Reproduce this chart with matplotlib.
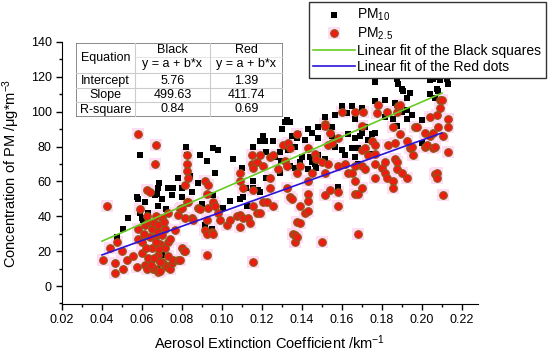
import matplotlib
matplotlib.use('Agg')
import matplotlib.pyplot as plt
from matplotlib.legend_handler import HandlerTuple
from matplotlib.ticker import MultipleLocator
import numpy as np

plt.rcParams['font.family'] = ['Liberation Sans', 'DejaVu Sans']
plt.rcParams['mathtext.fontset'] = 'custom'
plt.rcParams['mathtext.rm'] = 'Liberation Sans'
plt.rcParams['mathtext.it'] = 'Liberation Sans:italic'
plt.rcParams['font.size'] = 9

# PM10 (black squares): extinction coefficient / km^-1, concentration / ug m^-3
pm10_x = [0.0475, 0.0506, 0.053, 0.0575, 0.058, 0.059, 0.060, 0.0607, 0.0615, 0.063,
          0.0665, 0.0675, 0.068, 0.068, 0.0687, 0.070, 0.072, 0.073, 0.075, 0.0757,
          0.080, 0.080, 0.0675, 0.070, 0.059, 0.082, 0.0825, 0.088, 0.089, 0.0925,
          0.0955, 0.098, 0.0957, 0.0915, 0.095, 0.0965, 0.1005, 0.104, 0.1055, 0.109,
          0.1105, 0.110, 0.112, 0.1125, 0.1155, 0.1155, 0.1155, 0.118, 0.119, 0.119,
          0.1205, 0.1215, 0.122, 0.122, 0.1255, 0.1265, 0.129, 0.129, 0.1295, 0.130,
          0.1315, 0.1325, 0.133, 0.134, 0.134, 0.135, 0.1365, 0.1365, 0.1375, 0.138,
          0.139, 0.140, 0.1415, 0.143, 0.143, 0.144, 0.145, 0.145, 0.1465, 0.147,
          0.148, 0.148, 0.148, 0.1515, 0.1515, 0.1515, 0.155, 0.155, 0.1565, 0.1565,
          0.158, 0.160, 0.160, 0.1615, 0.1625, 0.163, 0.165, 0.165, 0.1665, 0.1665,
          0.1665, 0.168, 0.168, 0.169, 0.170, 0.170, 0.1715, 0.173, 0.175, 0.175,
          0.1765, 0.1765, 0.1765, 0.1815, 0.1815, 0.1855, 0.1865, 0.1875, 0.1875, 0.1875,
          0.188, 0.190, 0.190, 0.1905, 0.1925, 0.1925, 0.1925, 0.194, 0.195, 0.200,
          0.200, 0.204, 0.204, 0.2055, 0.2065, 0.2065, 0.2075, 0.208, 0.209, 0.2125,
          0.213, 0.085, 0.090, 0.078, 0.084]
pm10_y = [28, 33, 39, 51, 50, 42, 39, 38, 48, 42,
          52, 53, 46, 56, 59, 50, 44, 56, 52, 56,
          56, 51, 10, 18, 75, 80, 75, 59, 75, 72,
          79, 78, 52, 35, 33, 65, 45, 49, 73, 50,
          51, 68, 56, 46, 60, 56, 80, 55, 54, 83,
          86, 83, 62, 77, 83, 74, 77, 65, 72, 90,
          94, 95, 78, 94, 69, 86, 80, 68, 85, 87,
          71, 74, 84, 90, 67, 74, 88, 71, 70, 68,
          91, 85, 75, 97, 91, 73, 91, 86, 98, 80,
          57, 103, 78, 75, 99, 87, 103, 79, 96, 85,
          74, 70, 79, 86, 102, 88, 91, 84, 76, 87,
          117, 106, 88, 107, 97, 96, 105, 119, 104, 92,
          116, 113, 100, 112, 108, 101, 96, 111, 98, 95,
          82, 118, 110, 119, 120, 108, 113, 112, 118, 119,
          116, 54, 47, 62, 63]

# PM2.5 (red dots)
pm25_x = [0.0405, 0.0425, 0.044, 0.0465, 0.0465, 0.0475, 0.050, 0.0505, 0.0525, 0.0555,
          0.0575, 0.058, 0.058, 0.058, 0.059, 0.060, 0.060, 0.0615, 0.0615, 0.0625,
          0.0625, 0.063, 0.064, 0.065, 0.065, 0.0655, 0.0665, 0.0665, 0.067, 0.0665,
          0.068, 0.068, 0.068, 0.069, 0.069, 0.070, 0.070, 0.0715, 0.0715, 0.0715,
          0.0725, 0.073, 0.073, 0.073, 0.074, 0.074, 0.075, 0.0755, 0.0765, 0.078,
          0.078, 0.079, 0.079, 0.080, 0.080, 0.081, 0.0815, 0.0815, 0.0815, 0.0825,
          0.0825, 0.0825, 0.0825, 0.083, 0.083, 0.085, 0.0855, 0.088, 0.089, 0.0915,
          0.0915, 0.0925, 0.0925, 0.0925, 0.0925, 0.093, 0.093, 0.095, 0.0955, 0.0955,
          0.0965, 0.098, 0.099, 0.1025, 0.104, 0.1075, 0.109, 0.109, 0.109, 0.109,
          0.1105, 0.1105, 0.113, 0.114, 0.115, 0.115, 0.1155, 0.1155, 0.1155, 0.1155,
          0.1175, 0.1175, 0.119, 0.119, 0.1205, 0.1205, 0.1225, 0.124, 0.124, 0.124,
          0.1255, 0.1255, 0.128, 0.1305, 0.1315, 0.1325, 0.1325, 0.133, 0.134, 0.134,
          0.135, 0.1355, 0.1365, 0.1365, 0.1375, 0.1375, 0.1375, 0.1375, 0.139, 0.139,
          0.139, 0.1415, 0.143, 0.143, 0.143, 0.143, 0.143, 0.145, 0.1465, 0.147,
          0.150, 0.150, 0.1515, 0.1515, 0.1515, 0.1515, 0.153, 0.153, 0.154, 0.154,
          0.155, 0.158, 0.158, 0.158, 0.158, 0.160, 0.1615, 0.163, 0.165, 0.1665,
          0.1665, 0.1665, 0.1665, 0.168, 0.168, 0.170, 0.170, 0.170, 0.170, 0.1705,
          0.1715, 0.1715, 0.173, 0.175, 0.1765, 0.1765, 0.1765, 0.1765, 0.1775, 0.178,
          0.180, 0.1815, 0.1815, 0.1825, 0.1825, 0.183, 0.1855, 0.1855, 0.1855, 0.1865,
          0.1865, 0.1875, 0.1875, 0.1875, 0.188, 0.189, 0.189, 0.190, 0.1925, 0.1925,
          0.194, 0.195, 0.1955, 0.1965, 0.1975, 0.2015, 0.2015, 0.2025, 0.204, 0.204,
          0.2055, 0.2055, 0.2065, 0.2065, 0.2075, 0.2075, 0.2075, 0.208, 0.209, 0.209,
          0.210, 0.2105, 0.2105, 0.213, 0.213, 0.213,
          0.061, 0.062, 0.063, 0.064, 0.066, 0.066, 0.067, 0.067, 0.068, 0.069,
          0.070, 0.071, 0.0625, 0.0645, 0.0685]
pm25_y = [15, 46, 22, 7.5, 13, 25, 20, 10, 15, 17,
          11, 33, 27, 87, 44, 25, 19, 35, 12, 10,
          55, 16, 54, 33, 22, 10, 10, 28, 81, 70,
          31, 8, 18, 8.5, 24, 39, 14, 33, 22, 12,
          11, 42, 25, 17, 10, 27, 13, 15, 32, 41,
          15, 44, 15, 45, 22, 20, 58, 39, 20, 48,
          70, 66, 75, 62, 48, 39, 38, 45, 44, 60,
          32, 53, 38, 30, 18, 58, 45, 31, 30, 48,
          46, 42, 38, 35, 38, 40, 60, 41, 34, 65,
          56, 39, 39, 36, 75, 70, 55, 46, 68, 14,
          42, 71, 42, 75, 48, 69, 48, 74, 62, 56,
          46, 75, 67, 81, 72, 56, 69, 82, 51, 79,
          50, 30, 25, 29, 87, 65, 37, 28, 46, 36,
          69, 42, 60, 53, 49, 43, 79, 65, 76, 73,
          71, 25, 93, 92, 65, 52, 70, 81, 88, 55,
          82, 85, 69, 54, 46, 100, 70, 65, 65, 100,
          69, 60, 53, 53, 30, 92, 78, 69, 56, 100,
          79, 67, 75, 83, 81, 76, 70, 62, 99, 104,
          68, 71, 65, 100, 62, 81, 91, 60, 56, 82,
          73, 100, 71, 67, 103, 104, 87, 65, 83, 62,
          79, 80, 75, 91, 91, 88, 80, 81, 97, 86,
          88, 79, 80, 64, 98, 65, 62, 91, 107, 102,
          107, 86, 52, 96, 91, 77,
          30, 22, 37, 28, 36, 16, 25, 40, 35, 14,
          29, 37, 40, 12, 21]

# linear fit table
fit_names = ['Black', 'Red']
intercepts = [5.76, 1.39]
slopes = [499.63, 411.74]
r_squares = [0.84, 0.69]
fit_range = [0.04, 0.21]

x_ticks = np.arange(0.02, 0.23, 0.02)

fig = plt.figure(figsize=(5.5, 3.52), dpi=100)
ax = fig.add_axes([62 / 550, 48 / 352, 416 / 550, 262 / 352])

halo = ax.scatter(pm25_x, pm25_y, s=70, marker='s', c='#ffdcf3', linewidths=0, zorder=1)
black = ax.scatter(pm10_x, pm10_y, s=24, marker='s', c='black', linewidths=0, zorder=2)
red = ax.scatter(pm25_x, pm25_y, s=30, marker='o', c='#f01a12', edgecolors='#8a5a18',
                 linewidths=0.8, zorder=3)

xf = np.array(fit_range)
g_line, = ax.plot(xf, intercepts[0] + slopes[0] * xf, color='#66cc22', lw=1.2, zorder=4)
b_line, = ax.plot(xf, intercepts[1] + slopes[1] * xf, color='#2a14d8', lw=1.2, zorder=4)

ax.set_xlim(0.02, 0.228)
ax.set_ylim(-10.3, 140)
ax.set_xticks(x_ticks)
ax.set_xticklabels(['%.2f' % t for t in x_ticks])
ax.xaxis.set_minor_locator(MultipleLocator(0.01))
ax.yaxis.set_major_locator(MultipleLocator(20))
ax.yaxis.set_minor_locator(MultipleLocator(10))
ax.tick_params(which='major', direction='out', length=4, width=1, labelsize=9)
ax.tick_params(which='minor', direction='out', length=2.5, width=1)
ax.spines['top'].set_visible(False)
ax.spines['right'].set_visible(False)
ax.set_xlabel('Aerosol Extinction Coefficient /km$^{-1}$', fontsize=10.5, labelpad=5)
ax.set_ylabel('Concentration of PM /\u03bcg*m$^{-3}$', fontsize=10.5, labelpad=6)

fig.legend([black, (halo, red), g_line, b_line],
           ['PM$_{10}$', 'PM$_{2.5}$', 'Linear fit of the Black squares', 'Linear fit of the Red dots'],
           handler_map={tuple: HandlerTuple(ndivide=1, pad=0)},
           loc='upper right', bbox_to_anchor=(0.992, 0.993), fontsize=10,
           frameon=True, fancybox=False, edgecolor='#333333', framealpha=1,
           handlelength=3.0, handletextpad=0.2, labelspacing=0.15, borderpad=0.3,
           borderaxespad=0)

# table of fit results
tab = fig.add_axes([76 / 550, 1 - 117 / 352, 207 / 550, 74 / 352])
tab.set_xlim(0, 207)
tab.set_ylim(74, 0)
tab.axis('off')
tab.add_patch(plt.Rectangle((0, 0), 207, 74, fill=False, ec='#777777', lw=1.2))
for yy in [30, 45, 59]:
    tab.plot([0, 207], [yy, yy], color='#cccccc', lw=0.8)
tab.plot([59, 207], [14, 14], color='#e0e0e0', lw=0.6)
for xx in [59, 134]:
    tab.plot([xx, xx], [0, 74], color='#cccccc', lw=0.8)
col_c = [29.5, 96.5, 170.5]
tab.text(col_c[0], 15.5, 'Equation', ha='center', va='center', fontsize=9)
for i in range(2):
    tab.text(col_c[i + 1], 7, fit_names[i], ha='center', va='center', fontsize=9)
    tab.text(col_c[i + 1], 21.5, 'y = a + b*x', ha='center', va='center', fontsize=9)
    tab.text(col_c[i + 1], 38, '%.2f' % intercepts[i], ha='center', va='center', fontsize=9)
    tab.text(col_c[i + 1], 52, '%.2f' % slopes[i], ha='center', va='center', fontsize=9)
    tab.text(col_c[i + 1], 66.5, '%.2f' % r_squares[i], ha='center', va='center', fontsize=9)
tab.text(col_c[0], 38, 'Intercept', ha='center', va='center', fontsize=9)
tab.text(col_c[0], 52, 'Slope', ha='center', va='center', fontsize=9)
tab.text(col_c[0], 66.5, 'R-square', ha='center', va='center', fontsize=9)

plt.savefig('out.png', dpi=100)
